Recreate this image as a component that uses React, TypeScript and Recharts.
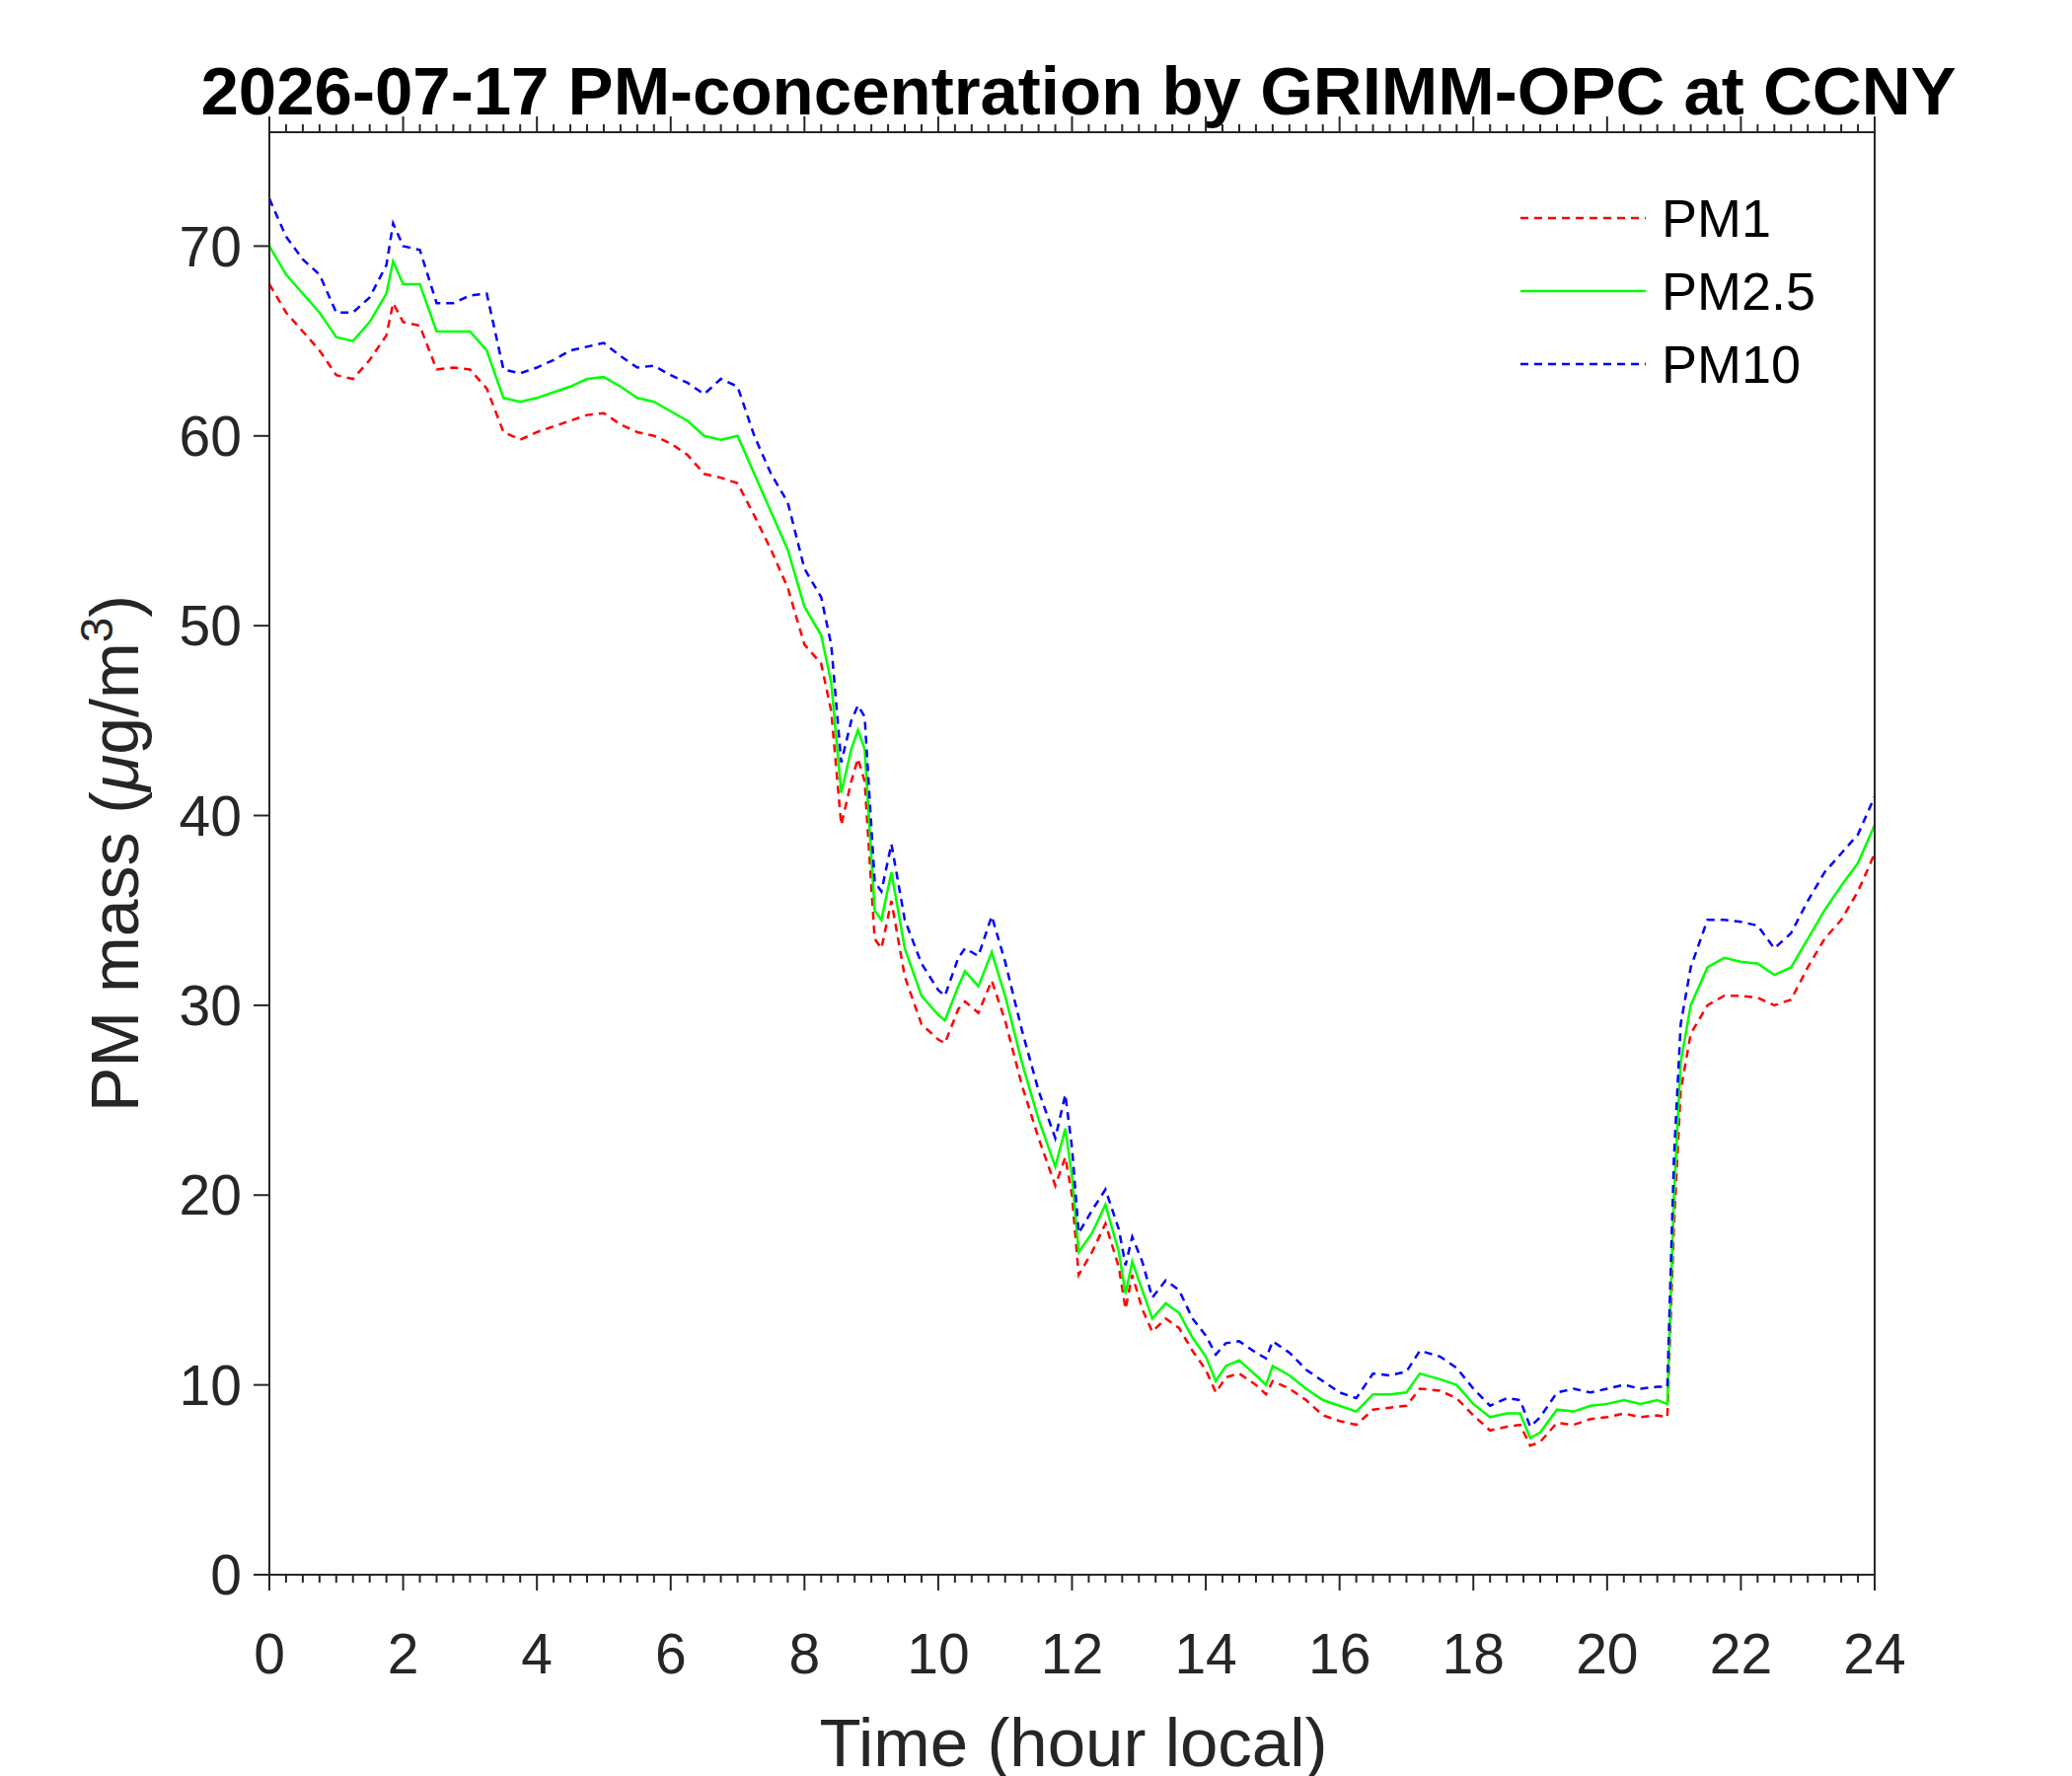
import React from 'react';
import { LineChart, Line, XAxis, YAxis } from 'recharts';

const hours = [
  0, 0.25, 0.5, 0.75, 1, 1.25, 1.5, 1.75, 1.85, 2,
  2.25, 2.5, 2.75, 3, 3.25, 3.5, 3.75, 4, 4.25, 4.5,
  4.75, 5, 5.25, 5.5, 5.75, 6, 6.25, 6.5, 6.75, 7,
  7.25, 7.5, 7.75, 8, 8.25, 8.4, 8.55, 8.7, 8.8, 8.9,
  9.05, 9.15, 9.3, 9.5, 9.75, 10, 10.1, 10.3, 10.4, 10.6,
  10.8, 11, 11.25, 11.5, 11.75, 11.9, 12, 12.1, 12.3, 12.5,
  12.7, 12.8, 12.9, 13.05, 13.2, 13.4, 13.6, 13.8, 14, 14.15,
  14.3, 14.5, 14.75, 14.9, 15, 15.25, 15.5, 15.75, 16, 16.25,
  16.5, 16.75, 17, 17.2, 17.5, 17.75, 18, 18.25, 18.5, 18.7,
  18.85, 19, 19.25, 19.5, 19.75, 20, 20.25, 20.5, 20.75, 20.9,
  21, 21.1, 21.25, 21.5, 21.75, 22, 22.25, 22.5, 22.75, 23,
  23.25, 23.5, 23.75, 24,
];

const pm1 = [
  68, 66.5, 65.5, 64.5, 63.2, 63, 64, 65.3, 67, 66,
  65.8, 63.5, 63.6, 63.5, 62.5, 60.2, 59.8, 60.2, 60.5, 60.8,
  61.1, 61.2, 60.6, 60.2, 60, 59.6, 59, 58, 57.8, 57.5,
  55.8, 54, 52, 49, 48, 45.5, 39.5, 41.8, 43, 41.8,
  33.5, 33, 35.5, 31.5, 29, 28.2, 28, 29.8, 30.2, 29.6,
  31.3, 29.2, 25.8, 23, 20.5, 22, 20, 15.8, 17, 18.5,
  16.2, 14, 15.8, 14, 12.8, 13.5, 13, 11.8, 10.8, 9.6,
  10.4, 10.6, 10, 9.5, 10.2, 9.8, 9.2, 8.4, 8.1, 7.9,
  8.7, 8.8, 8.9, 9.8, 9.7, 9.3, 8.4, 7.6, 7.8, 7.9,
  6.8, 7, 8, 7.9, 8.2, 8.3, 8.5, 8.3, 8.4, 8.3,
  18.5, 25.5, 28.5, 30, 30.5, 30.5, 30.4, 30, 30.3, 32,
  33.5, 34.5, 36, 38,
];

const pm25 = [
  70, 68.5, 67.5, 66.5, 65.2, 65, 66, 67.5, 69.2, 68,
  68, 65.5, 65.5, 65.5, 64.5, 62, 61.8, 62, 62.3, 62.6,
  63, 63.1, 62.6, 62, 61.8, 61.3, 60.8, 60, 59.8, 60,
  58, 56, 54, 51, 49.5, 47, 41.2, 43.5, 44.5, 43.5,
  35, 34.5, 37, 33, 30.5, 29.5, 29.2, 31, 31.8, 31,
  32.8, 30.5, 27, 24, 21.5, 23.5, 21, 17, 18, 19.5,
  17, 14.8, 16.5, 15, 13.5, 14.3, 13.8, 12.5, 11.5, 10.2,
  11, 11.3, 10.5, 10, 11, 10.5, 9.8, 9.2, 8.9, 8.6,
  9.5, 9.5, 9.6, 10.6, 10.3, 10, 9, 8.3, 8.5, 8.5,
  7.2, 7.5, 8.7, 8.6, 8.9, 9, 9.2, 9, 9.2, 9,
  20, 27, 30, 32, 32.5, 32.3, 32.2, 31.6, 32, 33.5,
  35, 36.3, 37.5, 39.5,
];

const pm10 = [
  72.5, 70.5, 69.3, 68.5, 66.5, 66.5, 67.3, 69, 71.2, 70,
  69.8, 67, 67, 67.4, 67.5, 63.5, 63.3, 63.6, 64, 64.5,
  64.7, 64.9, 64.2, 63.6, 63.7, 63.2, 62.8, 62.2, 63, 62.6,
  60, 58, 56.5, 53, 51.5, 49, 42.8, 45, 45.8, 45.2,
  36.5, 36, 38.5, 34.5, 32.2, 30.8, 30.5, 32.5, 33, 32.6,
  34.7, 32.3, 28.7, 25.5, 23, 25.3, 22.5, 18, 19.2, 20.3,
  18.2, 16.3, 17.8, 16.5, 14.6, 15.5, 15, 13.5, 12.6, 11.6,
  12.2, 12.3, 11.7, 11.4, 12.3, 11.7, 10.8, 10.2, 9.6, 9.3,
  10.6, 10.5, 10.7, 11.8, 11.5, 10.9, 9.8, 8.9, 9.3, 9.2,
  7.8, 8.3, 9.6, 9.8, 9.6, 9.8, 10, 9.8, 9.9, 9.9,
  22, 29, 32, 34.5, 34.5, 34.4, 34.2, 33, 33.8, 35.5,
  37, 38, 39, 41,
];

const majorX = [0, 2, 4, 6, 8, 10, 12, 14, 16, 18, 20, 22, 24];
const yTicks = [0, 10, 20, 30, 40, 50, 60, 70];
const xTicks = Array.from({ length: 97 }, (_, i) => i * 0.25);

const data = hours.map((h, i) => ({ h, pm1: pm1[i], pm25: pm25[i], pm10: pm10[i] }));

const FONT = '"Liberation Sans", Arial, sans-serif';
const AX = '#262626';

const BottomTick = (props: any) => {
  const { x, y, payload } = props;
  const major = majorX.includes(payload.value);
  return (
    <g>
      <line x1={x} x2={x} y1={y} y2={y + (major ? 16 : 8)} stroke={AX} strokeWidth={2} />
      {major && (
        <text x={x} y={y + 100} textAnchor="middle" fontSize={57} fontFamily={FONT} fill={AX}>
          {payload.value}
        </text>
      )}
    </g>
  );
};

const TopTick = (props: any) => {
  const { x, y, payload } = props;
  const major = majorX.includes(payload.value);
  return <line x1={x} x2={x} y1={y} y2={y - (major ? 16 : 8)} stroke={AX} strokeWidth={2} />;
};

const legendItems = [
  { name: 'PM1', color: '#ff0000', dash: '8 6' },
  { name: 'PM2.5', color: '#00ff00', dash: undefined },
  { name: 'PM10', color: '#0000ff', dash: '8 6' },
];

export default function App() {
  return (
    <div style={{ position: 'absolute', left: 0, top: 0, width: 2100, height: 1800, background: '#fff' }}>
      <LineChart width={2100} height={1800} data={data} margin={{ top: 114, right: 180, bottom: 4, left: 123 }}>
        <XAxis
          xAxisId="b" dataKey="h" type="number" domain={[0, 24]} ticks={xTicks}
          height={200} tickSize={0} tickMargin={0} tick={<BottomTick />} interval={0}
          stroke={AX} strokeWidth={2}
        />
        <XAxis
          xAxisId="t" orientation="top" dataKey="h" type="number" domain={[0, 24]} ticks={xTicks}
          height={20} tickSize={0} tickMargin={0} tick={<TopTick />} interval={0}
          stroke={AX} strokeWidth={2}
        />
        <YAxis
          yAxisId="l" type="number" domain={[0, 76]} ticks={yTicks} width={150}
          tickSize={16} tickMargin={12} stroke={AX} strokeWidth={2}
          tick={{ fontSize: 57, fontFamily: FONT, fill: AX }}
        />
        <YAxis
          yAxisId="r" orientation="right" type="number" domain={[0, 76]} ticks={yTicks} width={20}
          tickSize={16} tick={false} stroke={AX} strokeWidth={2}
        />
        <Line xAxisId="b" yAxisId="l" dataKey="pm1" type="linear" stroke="#ff0000" strokeWidth={2.5}
          strokeDasharray="8 6" dot={false} isAnimationActive={false} />
        <Line xAxisId="b" yAxisId="l" dataKey="pm25" type="linear" stroke="#00ff00" strokeWidth={2.5}
          dot={false} isAnimationActive={false} />
        <Line xAxisId="b" yAxisId="l" dataKey="pm10" type="linear" stroke="#0000ff" strokeWidth={2.5}
          strokeDasharray="8 6" dot={false} isAnimationActive={false} />
        <text x={1093} y={116} textAnchor="middle" fontSize={69} fontWeight="bold" fontFamily={FONT} fill="#000">
          2026-07-17 PM-concentration by GRIMM-OPC at CCNY
        </text>
        <text x={1088} y={1790} textAnchor="middle" fontSize={69} fontFamily={FONT} fill={AX}>
          Time (hour local)
        </text>
        <text transform="translate(140,865) rotate(-90)" textAnchor="middle" fontSize={68} fontFamily={FONT} fill={AX}>
          PM mass (<tspan fontStyle="italic">μ</tspan>g/m<tspan dy={-26} fontSize={46}>3</tspan><tspan dy={26}>)</tspan>
        </text>
        {legendItems.map((it, i) => (
          <g key={it.name}>
            <line x1={1541} x2={1668} y1={221 + i * 74} y2={221 + i * 74} stroke={it.color}
              strokeWidth={2.5} strokeDasharray={it.dash} />
            <text x={1684} y={240 + i * 74} fontSize={54} fontFamily={FONT} fill="#000">{it.name}</text>
          </g>
        ))}
      </LineChart>
    </div>
  );
}
